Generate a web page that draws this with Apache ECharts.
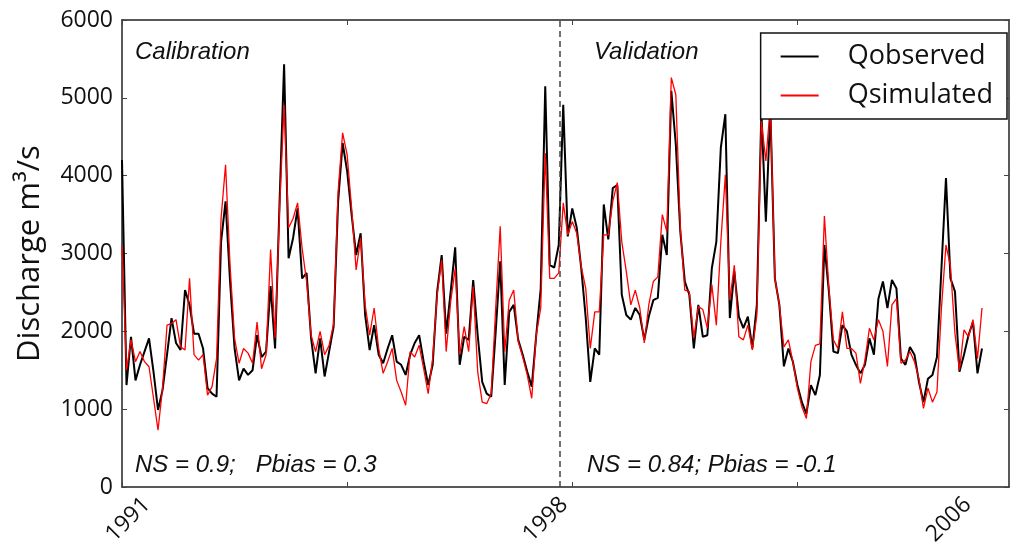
<!DOCTYPE html>
<html><head><meta charset="utf-8">
<script src="https://cdn.jsdelivr.net/npm/echarts@6/dist/echarts.min.js"></script>
<style>html,body{margin:0;padding:0;background:#fff}#c{width:1016px;height:550px}</style>
</head><body><div id="c"></div><script>
// Monthly discharge (m3/s), index 0 = first month of 1991
const observed = [
4200,1310,1930,1370,1570,1740,1910,1480,990,1245,
1700,2170,1850,1760,2530,2340,1970,1970,1780,1270,
1200,1160,3150,3670,2640,1780,1370,1520,1440,1500,
1950,1670,1740,2580,1780,3670,5430,2940,3200,3580,
2680,2750,1910,1460,1910,1420,1740,2060,3670,4420,
4060,3500,2980,3260,2210,1760,2080,1700,1590,1780,
1950,1610,1570,1440,1700,1850,1950,1610,1310,1570,
2510,2980,1970,2510,3080,1570,1930,1890,2660,1950,
1350,1200,1160,2000,2900,1310,2250,2340,1890,1700,
1480,1290,1950,2550,5150,2850,2820,3110,4910,3220,
3580,3330,2810,2170,1350,1780,1700,3630,3180,3840,
3880,2470,2210,2150,2300,2210,1890,2190,2400,2430,
3240,2980,5090,4400,3280,2640,2470,1780,2340,1930,
1950,2810,3150,4360,4790,2170,2770,2190,2040,2190,
1780,2340,4830,3410,4850,2680,2340,1550,1780,1610,
1310,1090,940,1310,1180,1440,3110,2510,1740,1720,
2080,2000,1700,1570,1460,1570,1910,1700,2420,2640,
2300,2660,2550,1650,1570,1800,1700,1350,1090,1390,
1440,1670,2810,3970,2680,2510,1480,1700,1950,2120,
1460,1780];
const simulated = [
3100,1500,1890,1610,1740,1610,1545,1140,730,1265,
2080,2100,2150,1800,1760,2680,1700,1630,1700,1180,
1290,1650,3450,4140,2850,1910,1590,1780,1720,1590,
2120,1520,1700,3050,1910,3580,4910,3330,3450,3650,
3070,2640,1950,1740,2000,1700,1820,2100,3800,4550,
4270,3580,2790,3200,2340,1950,2300,1780,1460,1610,
1780,1370,1220,1050,1740,1670,1820,1520,1200,1650,
2470,2920,1740,2380,2810,1700,2060,1740,2580,1480,
1090,1070,1200,2300,3350,1740,2400,2530,1870,1670,
1440,1140,1950,2300,4290,2680,2680,2750,3650,3240,
3410,3260,2830,2550,1780,2250,2250,3240,3240,3670,
3910,3150,2770,2340,2530,2300,1850,2340,2640,2700,
3500,3280,5260,5040,3330,2530,2510,1910,2320,2280,
2040,2600,2080,3150,4010,2400,2850,1930,1890,2080,
1760,2210,4700,4190,4900,2680,2340,1800,1890,1610,
1270,1030,880,1610,1820,1840,3480,2550,1890,1780,
2250,1780,1780,1720,1330,1630,2040,1890,2150,2000,
1550,2340,2420,1590,1630,1740,1610,1390,1010,1270,
1090,1220,2300,3110,2830,1970,1500,2020,1930,2150,
1650,2300];
const seriesNames = ['Qobserved','Qsimulated'];
const yearLabels = ['1991','1998','2006'];
const yearLabelPos = [5.5, 98.2, 187.8];
const xTickPos = [0, 50, 100, 150];
const splitPos = 97.3;
const periodLabels = ['Calibration','Validation'];
const statLabels = ['NS = 0.9;   Pbias = 0.3','NS = 0.84; Pbias = -0.1'];
const yTitle = 'Discharge m\u00b3/s';

const FONT = "'Open Sans', sans-serif";
const xMax = 197;
const frame = {show:true, onZero:false, lineStyle:{color:'#222', width:1.5}};
const xy = a => a.map((v,i)=>[i,v]);
const chart = echarts.init(document.getElementById('c'));
const txt = (t,l,tp) => ({type:'text', left:l, top:tp, style:{text:t, font:"italic 24px 'Liberation Sans', Arial, sans-serif", fill:'#111'}});
chart.setOption({
  animation:false,
  grid:{left:122,right:7,top:20,bottom:63},
  xAxis:[
    {type:'value', min:0, max:xMax, position:'bottom', axisLine:frame,
     axisTick:{show:true, inside:true, length:5, customValues:xTickPos, lineStyle:{color:'#444'}},
     axisLabel:{show:true, customValues:yearLabelPos, rotate:45, margin:14,
       formatter:v=>yearLabels[yearLabelPos.indexOf(v)] || '',
       fontFamily:FONT, fontSize:23, color:'#111'},
     splitLine:{show:false}},
    {type:'value', min:0, max:xMax, position:'top', axisLine:frame,
     axisTick:{show:true, inside:true, length:5, customValues:xTickPos, lineStyle:{color:'#444'}},
     axisLabel:{show:false}, splitLine:{show:false}}
  ],
  yAxis:[
    {type:'value', min:0, max:6000, interval:1000, position:'left', axisLine:frame,
     axisTick:{show:true, inside:true, length:5, lineStyle:{color:'#444'}},
     axisLabel:{fontFamily:FONT, fontSize:23, color:'#111', margin:9, formatter:v=>String(v)},
     splitLine:{show:false},
     name:yTitle, nameLocation:'middle', nameGap:76,
     nameTextStyle:{fontFamily:FONT, fontSize:31, color:'#111'}},
    {type:'value', min:0, max:6000, interval:1000, position:'right', axisLine:frame,
     axisTick:{show:true, inside:true, length:5, lineStyle:{color:'#444'}},
     axisLabel:{show:false}, splitLine:{show:false}}
  ],
  legend:{orient:'vertical', right:9, top:33,
    data:[{name:seriesNames[0], icon:'rect'},{name:seriesNames[1], icon:'rect'}],
    itemWidth:38, itemHeight:2, itemGap:12, padding:[10,14,10,20],
    backgroundColor:'#fff', borderColor:'#111', borderWidth:1.5,
    textStyle:{fontFamily:FONT, fontSize:27, color:'#111', padding:[0,0,0,24]}},
  series:[
    {name:seriesNames[0], type:'line', data:xy(observed), symbol:'none',
     lineStyle:{color:'#000', width:2}, itemStyle:{color:'#000'},
     markLine:{silent:true, symbol:'none', label:{show:false},
       lineStyle:{type:[6,4], color:'#444', width:1.5}, data:[{xAxis:splitPos}]}},
    {name:seriesNames[1], type:'line', data:xy(simulated), symbol:'none',
     lineStyle:{color:'#ff0000', width:1.3}, itemStyle:{color:'#ff0000'}}
  ],
  graphic:[
    txt(periodLabels[0],135,40), txt(periodLabels[1],594,40),
    txt(statLabels[0],135,453), txt(statLabels[1],587,453)
  ]
});
</script></body></html>
